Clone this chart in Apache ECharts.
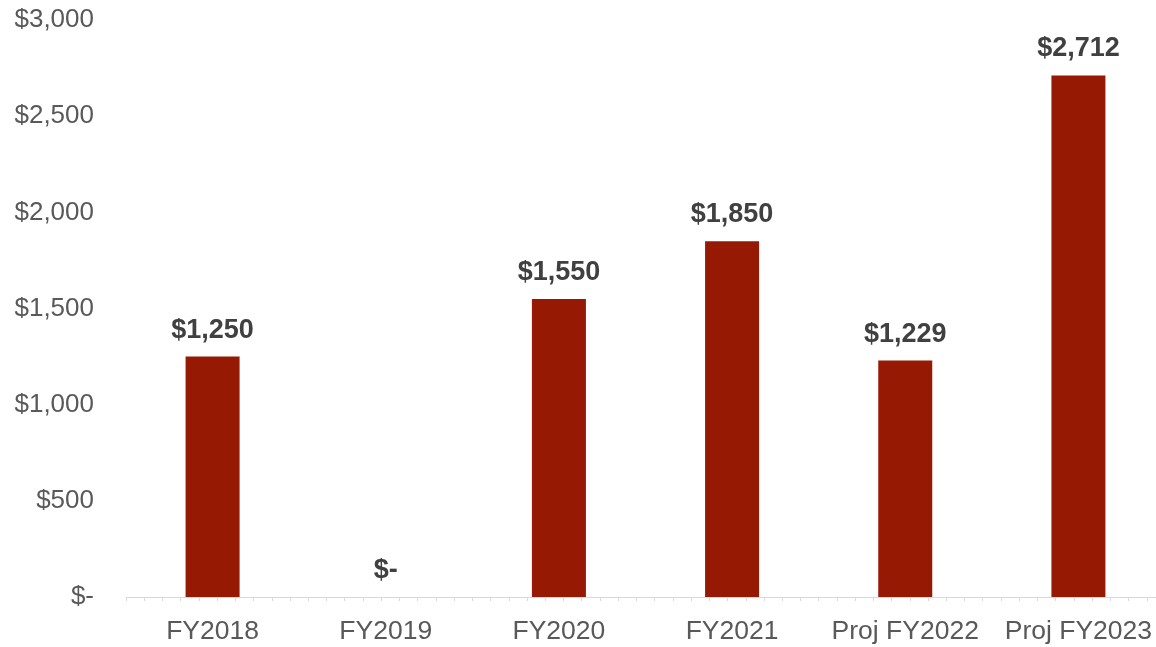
<!DOCTYPE html>
<html>
<head>
<meta charset="utf-8">
<script src="https://cdn.jsdelivr.net/npm/echarts@6/dist/echarts.min.js"></script>
<style>
  html, body { margin: 0; padding: 0; background: #fff; }
  #chart { width: 1156px; height: 647px; }
</style>
</head>
<body>
<div id="chart"></div>
<script>
// data
const years = ['FY2018', 'FY2019', 'FY2020', 'FY2021', 'Proj FY2022', 'Proj FY2023'];
const amounts = [1250, 0, 1550, 1850, 1229, 2712];

function money(v) {
  if (v === 0) return '$-';
  return '$' + v.toLocaleString('en-US');
}

const chart = echarts.init(document.getElementById('chart'));
chart.setOption({
  animation: false,
  grid: { left: 126, width: 1039, top: 20, bottom: 50, containLabel: false, outerBoundsMode: 'none' },
  xAxis: [
    {
      type: 'category',
      data: years,
      axisLine: { lineStyle: { color: '#d9d9d9', width: 1 } },
      axisTick: { show: false },
      axisLabel: {
        interval: 0,
        color: '#595959', fontSize: 26.5, margin: 21,
        fontFamily: 'Liberation Sans, Arial, sans-serif'
      }
    },
    {
      // small tick marks along the bottom axis
      type: 'value',
      position: 'bottom',
      min: 0, max: 57, interval: 1,
      axisLine: { show: false },
      axisTick: { show: true, length: 4, lineStyle: { color: '#d9d9d9' } },
      axisLabel: { show: false },
      splitLine: { show: false }
    }
  ],
  yAxis: {
    type: 'value',
    min: 0, max: 3000, interval: 500,
    axisLine: { show: false },
    axisTick: { show: false },
    splitLine: { show: false },
    axisLabel: {
      color: '#595959', fontSize: 26, margin: 32,
      fontFamily: 'Liberation Sans, Arial, sans-serif',
      formatter: money
    }
  },
  series: [{
    type: 'bar',
    xAxisIndex: 0,
    data: amounts,
    barWidth: 54,
    itemStyle: { color: '#961904' },
    label: {
      show: true,
      position: 'top',
      distance: 13,
      color: '#404040',
      fontSize: 27,
      fontWeight: 'bold',
      fontFamily: 'Liberation Sans, Arial, sans-serif',
      formatter: p => money(p.value)
    }
  }]
});
</script>
</body>
</html>
